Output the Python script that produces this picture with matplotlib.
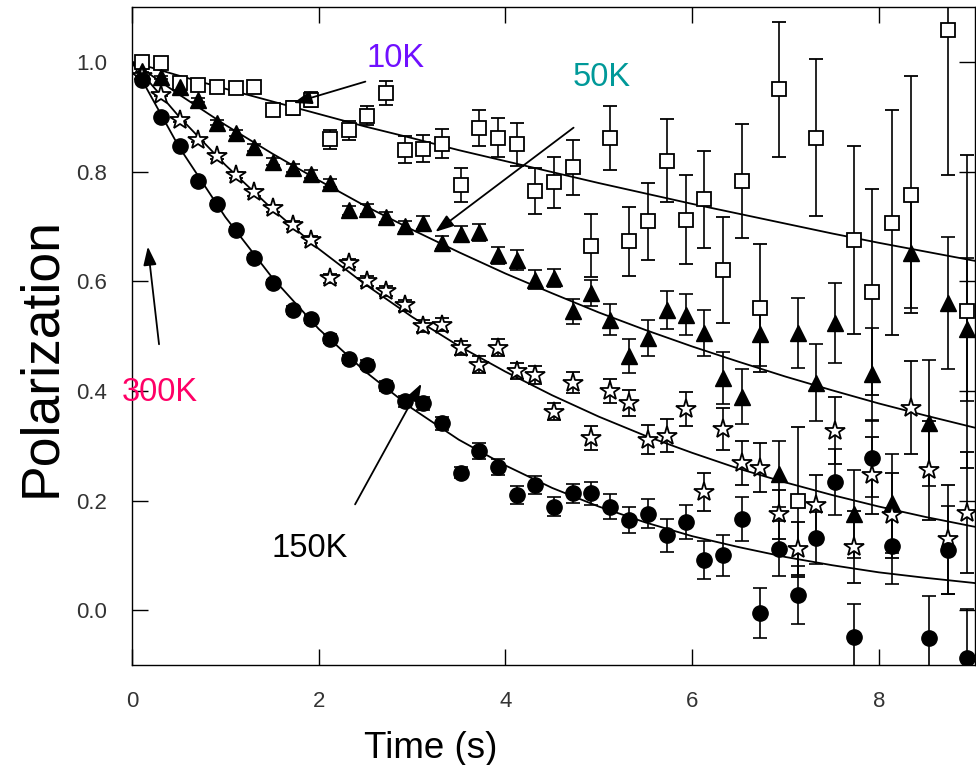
import numpy as np
import matplotlib
matplotlib.use("Agg")
import matplotlib.pyplot as plt

plt.rcParams['font.family'] = ['Liberation Sans', 'DejaVu Sans']

############### DATA ###############
nan = np.nan
time_s = [0.11, 0.31, 0.51, 0.71, 0.91, 1.11, 1.31, 1.51, 1.72, 1.92,
          2.12, 2.32, 2.52, 2.72, 2.92, 3.12, 3.32, 3.52, 3.72, 3.92,
          4.12, 4.32, 4.52, 4.72, 4.92, 5.12, 5.32, 5.53, 5.73, 5.93,
          6.13, 6.33, 6.53, 6.73, 6.93, 7.13, 7.33, 7.53, 7.73, 7.93,
          8.14, 8.34, 8.54, 8.74, 8.94]

# open squares
pol_sq = [1.000, 0.998, 0.961, 0.958, 0.954, 0.952, 0.954, 0.913, 0.916, 0.931,
          0.859, 0.875, 0.902, 0.943, 0.840, 0.842, 0.851, 0.776, 0.879, 0.862,
          0.850, 0.764, 0.780, 0.808, 0.665, 0.861, 0.673, 0.709, 0.820, 0.712,
          0.749, 0.620, 0.782, 0.551, 0.950, 0.199, 0.862, nan, 0.675, 0.580,
          0.707, 0.758, nan, 1.058, 0.545]
err_sq = [0.004, 0.005, 0.006, 0.007, 0.008, 0.009, 0.010, 0.011, 0.012, 0.014,
          0.017, 0.017, 0.018, 0.022, 0.024, 0.025, 0.027, 0.031, 0.033, 0.036,
          0.039, 0.042, 0.046, 0.050, 0.057, 0.058, 0.063, 0.070, 0.075, 0.081,
          0.089, 0.097, 0.104, 0.116, 0.123, 0.135, 0.143, nan, 0.171, 0.188,
          0.206, 0.216, nan, 0.264, 0.285]

# filled triangles
pol_tri = [0.984, 0.972, 0.954, 0.931, 0.889, 0.870, 0.844, 0.818, 0.806, 0.796,
           0.779, 0.729, 0.731, 0.717, 0.700, 0.707, 0.670, 0.686, 0.689, 0.647,
           0.639, 0.603, 0.606, 0.545, 0.579, 0.530, 0.464, 0.496, 0.547, 0.539,
           0.506, 0.423, 0.389, 0.503, 0.248, 0.506, 0.415, 0.523, 0.175, 0.430,
           0.195, 0.652, 0.342, 0.560, 0.512]
err_tri = [0.003, 0.003, 0.004, 0.004, 0.005, 0.005, 0.006, 0.006, 0.007, 0.007,
           0.008, 0.008, 0.009, 0.009, 0.010, 0.011, 0.012, 0.014, 0.015, 0.015,
           0.018, 0.017, 0.017, 0.023, 0.024, 0.028, 0.031, 0.033, 0.035, 0.037,
           0.042, 0.047, 0.050, 0.057, 0.060, 0.064, 0.070, 0.073, 0.080, 0.085,
           0.090, 0.100, 0.115, 0.120, 0.130]

# open stars
pol_star = [0.975, 0.940, 0.894, 0.858, 0.828, 0.794, 0.762, 0.733, 0.703, 0.676,
            0.605, 0.633, 0.600, 0.582, 0.556, 0.519, 0.521, 0.478, 0.448, 0.479,
            0.436, 0.429, 0.362, 0.415, 0.314, 0.400, 0.378, 0.311, 0.318, 0.367,
            0.216, 0.330, 0.268, 0.260, 0.175, 0.111, 0.191, 0.327, 0.115, 0.246,
            0.173, 0.369, 0.255, 0.129, 0.178]
err_star = [0.003, 0.003, 0.004, 0.004, 0.005, 0.005, 0.006, 0.006, 0.007, 0.007,
            0.008, 0.008, 0.009, 0.009, 0.010, 0.011, 0.012, 0.013, 0.015, 0.015,
            0.015, 0.016, 0.016, 0.019, 0.021, 0.022, 0.024, 0.027, 0.030, 0.031,
            0.035, 0.038, 0.040, 0.044, 0.045, 0.050, 0.055, 0.061, 0.065, 0.070,
            0.078, 0.085, 0.090, 0.100, 0.110]

# filled circles
pol_circ = [0.967, 0.900, 0.846, 0.783, 0.741, 0.694, 0.642, 0.597, 0.548, 0.531,
            0.495, 0.458, 0.448, 0.409, 0.381, 0.377, 0.341, 0.251, 0.290, 0.261,
            0.210, 0.228, 0.189, 0.213, 0.213, 0.189, 0.164, 0.176, 0.137, 0.161,
            0.091, 0.100, 0.166, -0.005, 0.112, 0.027, 0.132, 0.234, -0.049, 0.277,
            0.117, nan, -0.050, 0.110, -0.088]
err_circ = [0.003, 0.003, 0.004, 0.004, 0.005, 0.005, 0.006, 0.006, 0.007, 0.007,
            0.008, 0.008, 0.009, 0.009, 0.010, 0.011, 0.012, 0.010, 0.014, 0.015,
            0.016, 0.017, 0.017, 0.018, 0.021, 0.022, 0.024, 0.027, 0.030, 0.031,
            0.035, 0.038, 0.040, 0.045, 0.050, 0.053, 0.047, 0.060, 0.060, 0.070,
            0.070, nan, 0.075, 0.080, 0.090]

# fitted decay curves
fit_t = [0.0, 0.5, 1.0, 1.5, 2.0, 2.5, 3.0, 3.5, 4.0, 4.5,
         5.0, 5.5, 6.0, 6.5, 7.0, 7.5, 8.0, 8.5, 9.0, 9.1]
fit_sq = [1.000, 0.975, 0.951, 0.928, 0.905, 0.882, 0.861, 0.839, 0.819, 0.799,
          0.779, 0.760, 0.741, 0.723, 0.705, 0.687, 0.670, 0.654, 0.638, 0.635]
fit_tri = [1.000, 0.941, 0.885, 0.833, 0.784, 0.737, 0.694, 0.653, 0.614, 0.578,
           0.543, 0.511, 0.481, 0.453, 0.426, 0.401, 0.377, 0.355, 0.334, 0.330]
fit_star = [1.000, 0.901, 0.812, 0.732, 0.659, 0.594, 0.535, 0.482, 0.435, 0.392,
            0.353, 0.318, 0.287, 0.258, 0.233, 0.210, 0.189, 0.170, 0.153, 0.150]
fit_circ = [1.000, 0.846, 0.717, 0.607, 0.513, 0.435, 0.368, 0.311, 0.264, 0.223,
            0.189, 0.160, 0.135, 0.115, 0.097, 0.082, 0.069, 0.059, 0.050, 0.048]

############### PLOT ###############
fig = plt.figure(figsize=(9.76, 7.65), dpi=100)
ax = fig.add_axes([0.1352, 0.1307, 0.8638, 0.8601])

for fit in [fit_sq, fit_tri, fit_star, fit_circ]:
    ax.plot(fit_t, fit, color='black', lw=1.3, zorder=2)

eb = dict(ecolor='black', elinewidth=1.2, capsize=5, capthick=1.2, ls='none', zorder=3)
ax.errorbar(time_s, pol_sq, yerr=err_sq, fmt='s', ms=10, mfc='white', mec='black', mew=1.3, **eb)
ax.errorbar(time_s, pol_tri, yerr=err_tri, fmt='^', ms=12, mfc='black', mec='black', **eb)
ax.errorbar(time_s, pol_star, yerr=err_star, fmt='*', ms=15, mfc='white', mec='black', mew=1.3, **eb)
ax.errorbar(time_s, pol_circ, yerr=err_circ, fmt='o', ms=11, mfc='black', mec='black', **eb)

# temperature labels with arrows
arrow = dict(arrowstyle='-|>,head_length=0.7,head_width=0.25', color='black', lw=1.3,
             mutation_scale=16, shrinkA=0, shrinkB=0)
ax.text(2.82, 1.007, '10K', color='#7010ff', fontsize=23.5, ha='center', va='center')
ax.annotate('', xy=(1.73, 0.925), xytext=(2.50, 0.964), arrowprops=arrow, zorder=5)
ax.text(5.03, 0.971, '50K', color='#009999', fontsize=23.5, ha='center', va='center')
ax.annotate('', xy=(3.25, 0.690), xytext=(4.73, 0.880), arrowprops=arrow, zorder=5)
ax.text(0.30, 0.397, '300K', color='#ff0066', fontsize=23.5, ha='center', va='center')
ax.annotate('', xy=(0.17, 0.663), xytext=(0.29, 0.485), arrowprops=arrow, zorder=5)
ax.text(1.90, 0.113, '150K', color='black', fontsize=23.5, ha='center', va='center')
ax.annotate('', xy=(3.10, 0.413), xytext=(2.39, 0.193), arrowprops=arrow, zorder=5)

ax.set_xlim(0, 9.03)
ax.set_ylim(-0.1, 1.1)
ax.set_xticks([0, 2, 4, 6, 8])
ax.set_yticks([0.0, 0.2, 0.4, 0.6, 0.8, 1.0])
ax.set_yticklabels(['0.0', '0.2', '0.4', '0.6', '0.8', '1.0'])
ax.tick_params(direction='in', length=11.5, width=1, top=True, right=True,
               labelsize=16, labelcolor='#333333')
ax.tick_params(axis='x', pad=19)
ax.tick_params(axis='y', pad=18)
for s in ax.spines.values():
    s.set_linewidth(1)

ax.set_xlabel('Time (s)', fontsize=26.5)
ax.set_ylabel('Polarization', fontsize=38.5)
ax.xaxis.set_label_coords(0.354, -0.1)
ax.yaxis.set_label_coords(-0.078, 0.468)

fig.savefig('out.png', dpi=100)
